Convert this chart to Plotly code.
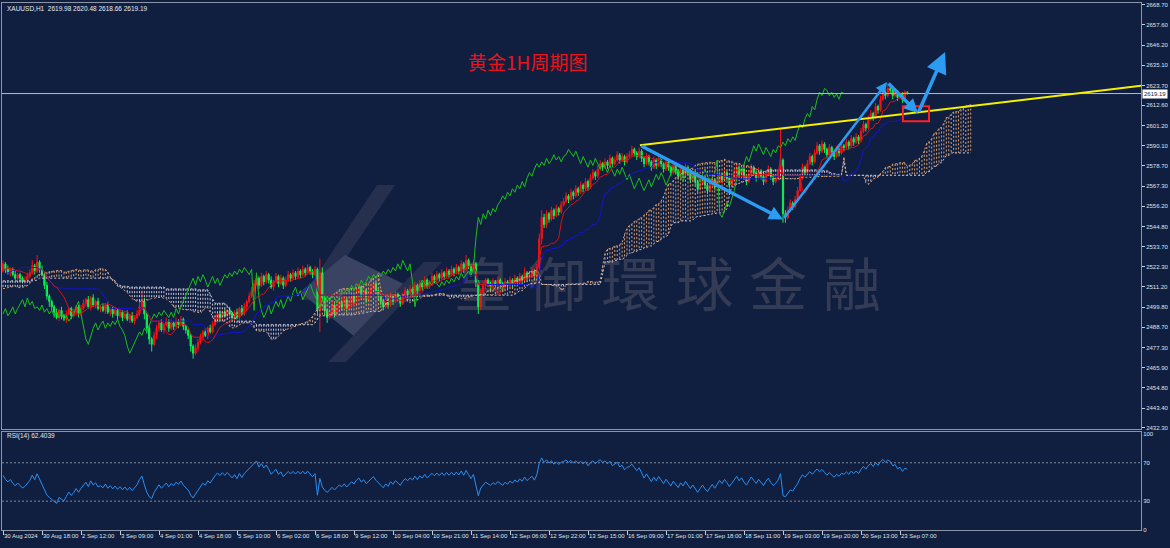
import numpy as np
import pandas as pd
import plotly.graph_objects as go

# ---------------- data ----------------
# 52 hidden history bars (before 30 Aug) used only to warm up the indicators
PRE_CLOSE = [2521, 2523, 2520, 2524, 2526, 2523, 2519, 2516, 2518, 2514, 2511, 2513,
             2510, 2507, 2509, 2506, 2504, 2507, 2505, 2503, 2506, 2504, 2507, 2505, 2508, 2506,
             2509, 2507, 2511, 2509, 2513, 2516, 2514, 2512, 2515, 2518, 2516, 2520, 2524, 2521,
             2526, 2528, 2523, 2519, 2522, 2518, 2520, 2523, 2521, 2519, 2522, 2520]
PRE_UW = [2, 2, 1, 3, 2, 1, 1, 2, 1, 1, 2, 1,
          1, 2, 1, 2, 1, 2, 1, 2, 1, 2, 1, 2, 1, 2,
          2, 1, 2, 1, 2, 2, 1, 1, 2, 2, 1, 2, 3, 1, 3, 3, 1, 1, 2, 1, 2, 2, 1, 1, 2, 1]
PRE_LW = [1, 1, 2, 1, 1, 2, 2, 1, 2, 2, 1, 2,
          2, 1, 2, 1, 2, 1, 2, 1, 2, 1, 2, 1, 2, 1,
          1, 2, 1, 2, 1, 1, 2, 2, 1, 1, 2, 1, 1, 2, 1, 1, 2, 2, 1, 2, 1, 1, 2, 2, 1, 2]

# visible H1 closes, 30 Aug 2024 -> 23 Sep 2024
CLOSE = [
    2524, 2521, 2519, 2521, 2518, 2516, 2518,
    2516, 2514, 2515, 2517,
    2519, 2523, 2520, 2525, 2521, 2518,
    2512, 2506, 2503, 2500,
    2497, 2494, 2498, 2495, 2493, 2496, 2499, 2495, 2497, 2500,
    2496, 2499,
    2502, 2504, 2500, 2505, 2501, 2503, 2499,
    2500, 2498, 2501, 2497, 2499, 2496, 2498,
    2495, 2497, 2494, 2496, 2493, 2495, 2492, 2494, 2496,
    2500, 2503, 2496, 2488, 2482, 2479,
    2484, 2488, 2491, 2487, 2490, 2492, 2488, 2491,
    2489, 2492, 2490, 2493, 2489, 2487, 2484,
    2478, 2474, 2477, 2480,
    2483, 2486, 2484, 2488, 2486, 2490,
    2493, 2496, 2494, 2497, 2495, 2498, 2496, 2494,
    2497, 2494, 2499, 2496, 2500, 2503, 2506,
    2509, 2513, 2516, 2512, 2517, 2514, 2518,
    2515, 2511, 2514, 2517, 2513, 2516, 2512, 2515, 2518, 2516, 2519,
    2517, 2520, 2518, 2521, 2519, 2522, 2520, 2518, 2521, 2498,
    2519,
    2505, 2498, 2494, 2497, 2501, 2496, 2499, 2503, 2500, 2504, 2499, 2502, 2506, 2503,
    2508, 2511, 2506, 2509, 2504, 2507, 2510, 2513, 2509, 2506, 2503,
    2500, 2504, 2501, 2506, 2503, 2507, 2505, 2502, 2506, 2509, 2507,
    2510, 2508, 2512, 2509, 2513, 2511, 2515, 2512,
    2514, 2517, 2515, 2518, 2516, 2519, 2517, 2520, 2518, 2521, 2519,
    2522, 2520, 2524, 2521, 2526, 2523, 2520, 2524,
    2514, 2500, 2508, 2512, 2515,
    2513, 2511, 2514, 2512, 2515, 2513, 2511, 2514, 2512,
    2515, 2513, 2516, 2514, 2517, 2515, 2519, 2516, 2518, 2520, 2517,
    2522, 2538, 2550, 2546,
    2552, 2549, 2554, 2551, 2555, 2553, 2557,
    2559, 2562, 2560, 2564, 2562, 2566, 2564, 2568, 2566, 2570,
    2567, 2572, 2575, 2573, 2577, 2580,
    2578, 2581, 2579, 2583, 2580, 2582, 2585, 2582, 2584, 2581, 2584,
    2585, 2588, 2586, 2584, 2587,
    2583, 2580, 2584, 2581, 2578, 2582, 2579, 2583, 2580, 2577, 2581, 2578, 2575, 2579, 2576, 2573,
    2577, 2574, 2578, 2575, 2571, 2574, 2570, 2566, 2569, 2572, 2568, 2565, 2568, 2571, 2567, 2570,
    2574, 2571, 2575, 2572, 2568, 2571, 2575, 2578,
    2574, 2577, 2573, 2570, 2574, 2578, 2575, 2572, 2576, 2573, 2570, 2574, 2577, 2573, 2570, 2572,
    2575, 2582, 2552,
    2550, 2554, 2558, 2556, 2560,
    2565, 2572, 2578, 2575, 2580, 2584, 2581,
    2586, 2590, 2587, 2591, 2588,
    2585, 2589, 2586, 2584, 2588, 2586, 2590,
    2589, 2592, 2590, 2594, 2592, 2595, 2593,
    2598, 2602, 2600, 2605, 2608, 2606,
    2612, 2610, 2616, 2620, 2618, 2622,
    2621, 2618, 2620, 2617, 2619, 2616, 2619.98, 2619.19,
]
UPPER_WICK = [
    2, 1, 2, 1, 1, 2, 1,
    1, 1, 2, 2,
    2, 3, 1, 4, 1, 2,
    1, 2, 1, 1,
    1, 2, 1, 2, 1, 2, 1, 1, 2, 1,
    1, 2,
    2, 1, 2, 1, 2, 1, 2,
    1, 2, 1, 2, 1, 1, 2,
    1, 2, 1, 1, 2, 1, 2, 1, 2,
    4, 6, 2, 1, 2, 1,
    2, 2, 1, 2, 1, 2, 1, 2,
    1, 2, 1, 2, 1, 1, 1,
    1, 1, 2, 2,
    2, 1, 2, 1, 2, 2,
    2, 1, 2, 1, 2, 1, 2, 1,
    1, 2, 1, 2, 2, 1, 2,
    2, 2, 3, 1, 2, 1, 2,
    1, 2, 1, 2, 1, 2, 1, 2, 2, 1, 2,
    1, 2, 1, 2, 1, 2, 1, 1, 2, 1,
    8,
    3, 2, 1, 2, 2, 1, 2, 2, 1, 2, 1, 2, 2, 1,
    2, 2, 1, 2, 1, 2, 2, 2, 1, 1, 1,
    1, 2, 1, 2, 1, 2, 1, 1, 2, 2, 1,
    2, 1, 2, 1, 2, 1, 2, 1,
    1, 2, 1, 2, 1, 2, 1, 2, 1, 2, 1,
    2, 1, 2, 1, 3, 1, 1, 2,
    1, 1, 2, 2, 1,
    1, 1, 2, 1, 2, 1, 1, 2, 1,
    2, 1, 2, 1, 2, 1, 3, 1, 2, 2, 1,
    2, 3, 4, 2,
    2, 1, 2, 1, 2, 1, 2,
    2, 2, 1, 2, 1, 2, 1, 2, 1, 2,
    1, 2, 2, 1, 2, 2,
    1, 2, 1, 2, 1, 2, 2, 1, 2, 1, 2,
    2, 2, 1, 1, 2,
    1, 1, 2, 1, 1, 2, 1, 2, 1, 1, 2, 1, 1, 2, 1, 1,
    2, 1, 2, 1, 1, 2, 1, 1, 2, 2, 1, 1, 2, 2, 1, 2,
    2, 1, 2, 1, 1, 2, 2, 2,
    1, 2, 1, 1, 2, 2, 1, 1, 2, 1, 1, 2, 2, 1, 1, 2,
    2, 18, 1,
    2, 2, 2, 1, 2,
    2, 2, 2, 1, 2, 2, 1,
    2, 2, 1, 2, 1,
    1, 2, 1, 1, 2, 1, 2,
    1, 2, 1, 2, 1, 2, 1,
    2, 2, 1, 2, 2, 1,
    2, 1, 2, 2, 1, 3,
    1, 1, 2, 1, 1, 1, 1, 0.5,
]
LOWER_WICK = [
    1, 2, 1, 2, 1, 1, 2,
    2, 1, 1, 1,
    1, 1, 2, 1, 2, 1,
    2, 2, 3, 2,
    3, 1, 2, 2, 1, 2, 1, 2, 1, 2,
    2, 1,
    1, 2, 1, 2, 1, 2, 1,
    2, 1, 2, 1, 2, 2, 1,
    2, 1, 2, 1, 1, 2, 1, 2, 1,
    1, 2, 3, 3, 3, 4,
    1, 2, 2, 1, 2, 1, 2, 1,
    2, 1, 2, 1, 2, 2, 2,
    3, 3, 1, 2,
    1, 2, 1, 2, 1, 1,
    1, 2, 1, 2, 1, 2, 1, 2,
    2, 1, 2, 1, 1, 2, 1,
    1, 1, 1, 2, 1, 2, 1,
    2, 1, 2, 1, 2, 1, 2, 1, 1, 2, 1,
    2, 1, 2, 1, 2, 1, 2, 2, 1, 3,
    12,
    2, 3, 3, 1, 2, 2, 1, 2, 2, 1, 2, 1, 1, 2,
    1, 1, 2, 1, 2, 1, 1, 1, 2, 2, 2,
    2, 1, 2, 1, 2, 1, 2, 2, 1, 1, 2,
    1, 2, 1, 2, 1, 2, 1, 2,
    2, 1, 2, 1, 2, 1, 2, 1, 2, 1, 2,
    1, 2, 1, 2, 1, 2, 2, 1,
    3, 4, 2, 1, 2,
    2, 2, 1, 2, 1, 2, 2, 1, 2,
    1, 2, 1, 2, 1, 2, 1, 2, 1, 1, 2,
    1, 2, 3, 2,
    2, 2, 1, 2, 1, 2, 1,
    1, 1, 2, 1, 2, 1, 2, 1, 2, 1,
    2, 1, 1, 2, 1, 1,
    2, 1, 2, 1, 2, 1, 1, 2, 1, 2, 1,
    1, 1, 2, 2, 1,
    2, 2, 1, 2, 2, 1, 2, 1, 2, 2, 1, 2, 2, 1, 2, 2,
    1, 2, 1, 2, 2, 1, 2, 2, 1, 1, 2, 2, 1, 1, 2, 1,
    1, 2, 1, 2, 2, 1, 1, 1,
    2, 1, 2, 2, 1, 1, 2, 2, 1, 2, 2, 1, 1, 2, 2, 1,
    1, 3, 5,
    3, 1, 1, 2, 1,
    1, 1, 1, 2, 1, 1, 2,
    1, 1, 2, 1, 2,
    2, 1, 2, 2, 1, 2, 1,
    2, 1, 2, 1, 2, 1, 2,
    1, 1, 2, 1, 1, 2,
    1, 2, 1, 1, 2, 1,
    2, 2, 1, 2, 1, 2, 1, 0.53,
]

X_TICK_BARS = [0, 16, 32, 48, 64, 80, 96, 112, 128, 144, 160, 176, 192, 208, 224, 240,
               256, 272, 288, 304, 320, 336, 352, 368]
X_TICK_LABELS = ['30 Aug 2024', '30 Aug 18:00', '2 Sep 12:00', '3 Sep 09:00', '4 Sep 01:00',
                 '4 Sep 18:00', '5 Sep 10:00', '6 Sep 02:00', '6 Sep 18:00', '9 Sep 12:00',
                 '10 Sep 04:00', '10 Sep 21:00', '11 Sep 14:00', '12 Sep 06:00', '12 Sep 22:00',
                 '13 Sep 15:00', '16 Sep 09:00', '17 Sep 01:00', '17 Sep 18:00', '18 Sep 11:00',
                 '19 Sep 03:00', '19 Sep 20:00', '20 Sep 13:00', '23 Sep 07:00']
Y_TICK_LABELS = ['2668.70', '2657.60', '2646.20', '2635.10', '2623.70', '2612.60', '2601.20',
                 '2590.10', '2578.70', '2567.30', '2556.20', '2544.80', '2533.70', '2522.30',
                 '2511.20', '2499.80', '2488.70', '2477.30', '2465.90', '2454.80', '2443.40',
                 '2432.30']
RSI_TICKS = [0, 30, 70, 100]
RSI_LEVELS = [30, 70]
LAST_PRICE = 2619.19

# analyst drawings (bar index, price)
TREND_X = [261.3, 466.9]
TREND_Y = [2590.3, 2623.5]
ARROW_PTS = [(261.3, 2590.3), (320.0, 2548.8), (362.7, 2625.6), (375.4, 2608.2), (386.5, 2642.4)]
BOX_X = [369.2, 379.9]
BOX_Y = [2603.7, 2612.1]

assert len(CLOSE) == len(UPPER_WICK) == len(LOWER_WICK), (len(CLOSE), len(UPPER_WICK), len(LOWER_WICK))
assert len(PRE_CLOSE) == len(PRE_UW) == len(PRE_LW)

# ---------------- derived series ----------------
P = len(PRE_CLOSE)
N = len(CLOSE)
allc = np.array(PRE_CLOSE + CLOSE, dtype=float)
allo = np.concatenate([[allc[0]], allc[:-1]])
uw = np.array(PRE_UW + UPPER_WICK, dtype=float)
lw = np.array(PRE_LW + LOWER_WICK, dtype=float)
allh = np.maximum(allo, allc) + uw
alll = np.minimum(allo, allc) - lw

H = pd.Series(allh); L = pd.Series(alll); C = pd.Series(allc)
tenkan = (H.rolling(9, min_periods=1).max() + L.rolling(9, min_periods=1).min()) / 2
kijun = (H.rolling(26, min_periods=1).max() + L.rolling(26, min_periods=1).min()) / 2
spanA = ((tenkan + kijun) / 2).values
spanB = ((H.rolling(52, min_periods=1).max() + L.rolling(52, min_periods=1).min()) / 2).values

delta = C.diff().fillna(0)
gain = delta.clip(lower=0); loss = -delta.clip(upper=0)
ag = gain.ewm(alpha=1 / 14, adjust=False).mean(); al = loss.ewm(alpha=1 / 14, adjust=False).mean()
rsi = (100 - 100 / (1 + ag / al.replace(0, 1e-9))).values

idx = np.arange(N)
o = allo[P:]; h = allh[P:]; l = alll[P:]; c = allc[P:]

BG = '#101e40'
W, HGT = 1170, 548
L_PX, R_PX, T_PX, B_PX = 2, 1141, 3, 530


def pxx(p):
    return (p - L_PX) / (R_PX - L_PX)


def pxy(p):
    return (B_PX - p) / (B_PX - T_PX)


X0 = -0.41
X1 = X0 + (R_PX - L_PX) / 2.4375

fig = go.Figure()

# cloud (dotted vertical hatching between the spans, shifted 26 bars ahead)
cx_up, cy_up, cx_dn, cy_dn = [], [], [], []
ax_line, ay_line, bx_line, by_line = [], [], [], []
for j in range(N + 26):
    g = j + P - 26
    a, b = spanA[g], spanB[g]
    ax_line.append(j); ay_line.append(a); bx_line.append(j); by_line.append(b)
    if a >= b:
        cx_up += [j, j, None]; cy_up += [a, b, None]
    else:
        cx_dn += [j, j, None]; cy_dn += [b, a, None]
fig.add_trace(go.Scatter(x=cx_up, y=cy_up, mode='lines', line=dict(color='#d9a070', width=1, dash='2px,2px'),
                         hoverinfo='skip', showlegend=False))
fig.add_trace(go.Scatter(x=cx_dn, y=cy_dn, mode='lines', line=dict(color='#c9c6d6', width=1, dash='2px,2px'),
                         hoverinfo='skip', showlegend=False))
fig.add_trace(go.Scatter(x=ax_line, y=ay_line, mode='lines', line=dict(color='#d9a070', width=1, dash='2px,2px'),
                         hoverinfo='skip', showlegend=False))
fig.add_trace(go.Scatter(x=bx_line, y=by_line, mode='lines', line=dict(color='#c9c6d6', width=1, dash='2px,2px'),
                         hoverinfo='skip', showlegend=False))

# chikou, kijun, tenkan
fig.add_trace(go.Scatter(x=idx[:N - 26], y=c[26:], mode='lines', line=dict(color='#19c019', width=1),
                         hoverinfo='skip', showlegend=False))
fig.add_trace(go.Scatter(x=idx, y=kijun.values[P:], mode='lines', line=dict(color='#1414d8', width=1),
                         hoverinfo='skip', showlegend=False))
fig.add_trace(go.Scatter(x=idx, y=tenkan.values[P:], mode='lines', line=dict(color='#e01010', width=1),
                         hoverinfo='skip', showlegend=False))

fig.add_trace(go.Candlestick(x=idx, open=o, high=h, low=l, close=c, whiskerwidth=0,
                             increasing=dict(line=dict(color='#ff1010', width=1), fillcolor='#ff1010'),
                             decreasing=dict(line=dict(color='#10f050', width=1), fillcolor='#10f050'),
                             hoverinfo='skip', showlegend=False))

# RSI
fig.add_trace(go.Scatter(x=idx, y=rsi[P:], mode='lines', line=dict(color='#2a8ff0', width=1),
                         xaxis='x2', yaxis='y2', hoverinfo='skip', showlegend=False))

TICKFONT = dict(family='Liberation Sans', size=6, color='#dfe3ea')
FRAME = '#8d95a6'
main_bottom = pxy(429)
rsi_top = pxy(432)

fig.update_layout(
    width=W, height=HGT, margin=dict(l=L_PX, r=W - R_PX, t=T_PX, b=HGT - B_PX, autoexpand=False),
    paper_bgcolor=BG, plot_bgcolor=BG, showlegend=False, hovermode=False,
    xaxis=dict(domain=[0, 1], range=[X0, X1], anchor='y', showticklabels=False, ticks='',
               showgrid=False, zeroline=False, showline=True, linecolor=FRAME, mirror=True,
               automargin=False, rangeslider=dict(visible=False)),
    yaxis=dict(domain=[main_bottom, 1], range=[2431.7, 2669.8], side='right', anchor='x',
               tickvals=[float(v) for v in Y_TICK_LABELS], ticktext=Y_TICK_LABELS,
               ticks='outside', ticklen=3, tickcolor='#c8ccd6', tickfont=TICKFONT, automargin=False,
               showgrid=False, zeroline=False, showline=True, linecolor=FRAME, mirror=True),
    xaxis2=dict(domain=[0, 1], range=[X0, X1], anchor='y2', matches='x',
                tickvals=X_TICK_BARS, ticktext=X_TICK_LABELS, ticks='outside', ticklen=4,
                tickcolor='#c8ccd6', tickfont=TICKFONT, ticklabelposition='outside right',
                tickangle=0, automargin=False,
                showgrid=False, zeroline=False, showline=True, linecolor=FRAME, mirror=True),
    yaxis2=dict(domain=[0, rsi_top], range=[0, 102], side='right', anchor='x2',
                tickvals=RSI_TICKS, ticktext=[str(v) for v in RSI_TICKS], ticks='', tickfont=TICKFONT,
                automargin=False, showgrid=False, zeroline=False,
                showline=True, linecolor=FRAME, mirror=True),
)

shapes = []
# watermark logo + text (below traces)
LOGO_DARK = '#262f4e'
LOGO_LIGHT = '#3a4362'
shapes.append(dict(type='path', xref='paper', yref='paper', layer='below', line=dict(width=0),
                   fillcolor=LOGO_DARK,
                   path='M {} {} L {} {} L {} {} L {} {} Z'.format(pxx(377), pxy(185), pxx(395), pxy(185),
                                                                 pxx(318), pxy(300), pxx(300), pxy(300))))
shapes.append(dict(type='path', xref='paper', yref='paper', layer='below', line=dict(width=0),
                   fillcolor=LOGO_LIGHT,
                   path='M {} {} L {} {} L {} {} L {} {} Z'.format(pxx(300), pxy(292), pxx(345), pxy(255),
                                                                 pxx(420), pxy(292), pxx(355), pxy(337))))
shapes.append(dict(type='path', xref='paper', yref='paper', layer='below', line=dict(width=0),
                   fillcolor=LOGO_DARK,
                   path='M {} {} L {} {} L {} {} L {} {} Z'.format(pxx(328), pxy(362), pxx(346), pxy(362),
                                                                 pxx(442), pxy(262), pxx(424), pxy(262))))
WM_CHARS = ['皇', '御', '環', '球', '金', '融']
for k, ch in enumerate(WM_CHARS):
    cxp = 483 + k * 73.8
    shapes.append(dict(type='rect', xref='paper', yref='paper', layer='below',
                       x0=pxx(cxp - 37), x1=pxx(cxp + 37), y0=pxy(325), y1=pxy(255),
                       line=dict(width=0), fillcolor='rgba(0,0,0,0)',
                       label=dict(text=ch, textposition='middle center',
                                  font=dict(family='Noto Sans CJK TC', size=58, color='#343b54'))))

# RSI 30 / 70 levels
for lv in RSI_LEVELS:
    shapes.append(dict(type='line', xref='x2', yref='y2', x0=X0, x1=X1, y0=lv, y1=lv,
                       line=dict(color='#7f889a', width=1, dash='2px,2px')))
# last price line
shapes.append(dict(type='line', xref='x', yref='y', x0=X0, x1=X1, y0=LAST_PRICE, y1=LAST_PRICE,
                   line=dict(color='#b8bcc6', width=1)))
# trend line
shapes.append(dict(type='line', xref='x', yref='y', x0=TREND_X[0], x1=TREND_X[1], y0=TREND_Y[0], y1=TREND_Y[1],
                   line=dict(color='#f5f000', width=2)))
# red box
shapes.append(dict(type='rect', xref='x', yref='y', x0=BOX_X[0], x1=BOX_X[1], y0=BOX_Y[0], y1=BOX_Y[1],
                   line=dict(color='#ff2020', width=2), fillcolor='rgba(0,0,0,0)'))
fig.update_layout(shapes=shapes)

ann = []
widths = [3.5, 2.5, 3.5, 3.5]
sizes = [0.8, 0.9, 0.8, 1.2]
for k in range(4):
    (x0, y0), (x1, y1) = ARROW_PTS[k], ARROW_PTS[k + 1]
    ann.append(dict(x=x1, y=y1, ax=x0, ay=y0, xref='x', yref='y', axref='x', ayref='y', text='',
                    showarrow=True, arrowhead=2, arrowsize=sizes[k], arrowwidth=widths[k], arrowcolor='#2b9cf2'))
ann.append(dict(x=pxx(5), y=pxy(8), xref='paper', yref='paper', xanchor='left', yanchor='middle',
                text='XAUUSD,H1  2619.98 2620.48 2618.66 2619.19', showarrow=False,
                font=dict(family='Liberation Sans', size=6.5, color='#e6e9ef')))
ann.append(dict(x=pxx(5), y=pxy(436), xref='paper', yref='paper', xanchor='left', yanchor='middle',
                text='RSI(14) 62.4039', showarrow=False,
                font=dict(family='Liberation Sans', size=6.5, color='#e6e9ef')))
ann.append(dict(x=pxx(527), y=pxy(61), xref='paper', yref='paper', xanchor='center', yanchor='middle',
                text='黄金1H周期图', showarrow=False,
                font=dict(family='Noto Sans CJK SC', size=19, color='#e8141c')))
ann.append(dict(x=1, y=LAST_PRICE, xref='paper', yref='y', xanchor='left', yanchor='middle',
                text='2619.19', showarrow=False, bgcolor='#ffffff', borderpad=1, xshift=1,
                font=dict(family='Liberation Sans', size=6, color='#101e40')))
fig.update_layout(annotations=ann)

fig.write_html('out.html')
